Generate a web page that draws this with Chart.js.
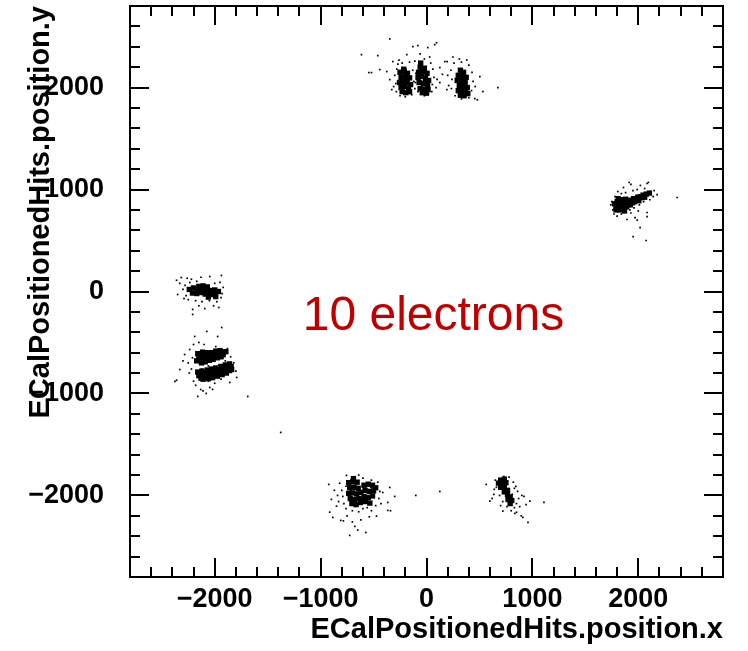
<!DOCTYPE html>
<html>
<head>
<meta charset="utf-8">
<script src="https://cdn.jsdelivr.net/npm/chart.js@4.4.1/dist/chart.umd.min.js"></script>
<style>
html,body{margin:0;padding:0;background:#fff;}
#wrap{width:748px;height:651px;}
</style>
</head>
<body>
<div id="wrap"><canvas id="c" width="748" height="651"></canvas></div>
<script>
// ---- axis setup ----
const xRange = [-2800, 2800];
const yRange = [-2800, 2800];
const majorTicks = [-2000, -1000, 0, 1000, 2000];
const minorStep = 200;
const xTitle = 'ECalPositionedHits.position.x';
const yTitle = 'ECalPositionedHits.position.y';
const annotation = '10 electrons';
const annotationPos = [-1169, -382];

// ---- hits (x, y) ----
const topCore = [
  [-250,2150],[-210,2160],[-180,2140],[-240,2100],[-200,2110],[-160,2095],[-255,2050],[-220,2060],[-185,2045],[-150,2030],
  [-240,2000],[-205,2010],[-170,1990],[-230,1960],[-195,1950],[-160,1960],[-215,2180],[-185,2080],
  [-60,2200],[-20,2190],[-75,2150],[-35,2160],[5,2140],[-80,2100],[-45,2110],[-10,2090],[20,2070],[-70,2050],
  [-30,2040],[10,2030],[-60,1990],[-25,1985],[15,1980],[-40,1950],[0,1945],[-55,2240],
  [320,2170],[350,2150],[300,2120],[340,2110],[375,2100],[290,2070],[330,2060],[365,2050],[310,2020],[350,2010],
  [385,2000],[300,1970],[335,1960],[370,1950],[320,1925],[355,1920],[390,1940]
];
const topHits = [
  [-347,2477],[-614,2323],[-460,2313],[78,2421],[95,2440],[12,2392],[-129,2402],[-82,2412],[674,2000],[-545,2147],
  [-520,2147],[-441,2176],[-318,2255],[-186,2323],[173,2255],[195,2255],[126,2196],[504,2108],[532,1961],[456,1892],
  [480,1880],[126,2049],[192,1980],[-347,2078],[-328,1980],[-375,2157],
  [-300,2120],[-290,2040],[-285,1960],[-270,2230],[-230,2240],[-160,2250],[-130,2170],[-120,2060],[-110,1990],[-140,1930],
  [-250,1920],[-200,1910],[-310,2010],[-280,2180],[-260,2270],
  [-110,2260],[-20,2280],[40,2240],[60,2180],[70,2100],[55,2030],[50,1960],[-100,2140],[-105,2050],[-80,1960],[-20,1920],
  [30,2300],[-60,2330],
  [230,2170],[240,2080],[235,1990],[260,2240],[330,2250],[400,2220],[430,2150],[440,2060],[425,1970],[400,1900],
  [330,1890],[270,1920],[310,2280],[380,2270],[460,2010],[200,2120],[210,2020],[150,2130],[90,2000],[100,2080],[250,2300]
];
const rightCore = [
  [1790,830],[1800,880],[1825,800],[1835,850],[1850,900],[1865,830],[1880,870],[1900,850],[1915,895],[1935,880],
  [1955,910],[1975,900],[1995,925],[2020,930],[2045,945],[2075,955],[2105,965],[1810,910],[1870,790],
  [1775,860],[1790,800],[1820,840],[1845,810],[1860,880],[1890,830],[1905,870],[1925,850],[1945,870],[1965,880],
  [1985,900],[2005,890],[2035,920],[2060,925],[1830,890],[1880,905]
];
const rightHits = [
  [1913,1069],[1930,1050],[2083,1059],[2095,1070],[1807,980],[1750,882],[2367,922],[2178,951],[2150,990],[2017,627],
  [1951,539],[2074,500],[2083,775],[2083,735],[1970,725],[1894,706],[1760,800],[1770,760],[1800,740],[1840,760],
  [1880,780],[1920,800],[1960,820],[2010,850],[2050,880],[2110,900],[2140,930],[1990,1000],[1950,990],[1880,970],
  [1840,960],[1780,930],[2060,1010],[2020,1040],[1860,1020],[1740,850],[1930,770],[2000,790],[1990,700]
];
const leftUpperCore = [
  [-2240,20],[-2200,35],[-2160,15],[-2120,30],[-2080,20],[-2040,10],[-2000,15],[-1965,0],[-2210,-15],[-2170,-20],
  [-2130,-10],[-2090,-25],[-2050,-20],[-2010,-30],[-2110,55],[-2070,45],[-2150,50],[-1990,-50],[-2060,-55]
];
const leftUpperHits = [
  [-2315,137],[-2047,147],[-1937,157],[-2350,-29],[-2208,-176],[-2208,-225],[-2094,-167],[-1962,-157],[-2235,88],[-2220,120],
  [-2280,60],[-2300,20],[-2330,80],[-2270,-40],[-2250,-80],[-2180,-90],[-2120,-100],[-2050,-90],[-1980,-100],[-1940,-60],
  [-1920,40],[-1950,90],[-2000,80],[-2170,100],[-2260,130],[-2130,140],[-1930,-20],[-2360,110],[-2290,-70],[-2150,-140],
  [-2010,-140]
];
const leftLowerCore = [
  [-2140,-660],[-2105,-645],[-2070,-640],[-2035,-625],[-2000,-615],[-1965,-605],[-1930,-595],[-1895,-590],[-2125,-700],[-2090,-690],
  [-2050,-675],[-2015,-665],[-1975,-650],[-1940,-640],[-2160,-610],[-2115,-595],[-2080,-600],
  [-2150,-640],[-2110,-625],[-2070,-615],[-2030,-600],[-1990,-585],[-1950,-580],[-2100,-670],[-2060,-660],[-2020,-645],
  [-1980,-630],[-1920,-620],[-2170,-680],
  [-2150,-825],[-2115,-810],[-2080,-800],[-2045,-790],[-2005,-780],[-1965,-765],[-1925,-755],[-1885,-745],[-1845,-735],
  [-2130,-850],[-2085,-840],[-2040,-825],[-2000,-815],[-1955,-800],[-1910,-790],[-1860,-775],
  [-2160,-790],[-2120,-780],[-2070,-770],[-2030,-760],[-1990,-750],[-1940,-735],[-1900,-720],[-1860,-710],[-2110,-860],
  [-2060,-855],[-2020,-845],[-1975,-830],[-1930,-815],[-1890,-800],[-1840,-765]
];
const leftLowerHits = [
  [-2376,-882],[-2360,-870],[-2189,-441],[-2075,-392],[-1934,-353],[-1972,-441],[-2284,-618],[-2236,-569],[-2330,-765],[-1792,-843],
  [-1858,-892],[-2132,-961],[-2110,-975],[-2160,-1029],[-2047,-941],[-1688,-1029],[-1377,-1382],[-2200,-520],[-2250,-700],[-2220,-760],
  [-2200,-880],[-2180,-920],[-2060,-880],[-2000,-900],[-1940,-860],[-1820,-700],[-1850,-640],[-1880,-560],[-1990,-540],[-2100,-520],
  [-2150,-500],[-2240,-800],[-2300,-680],[-1800,-780],[-2020,-960],[-2080,-1000],[-2210,-650],[-1900,-680],[-1960,-720],[-2060,-730],
  [-2120,-760]
];
const bottomLeftCore = [
  [-735,-1875],[-695,-1865],[-655,-1870],[-725,-1925],[-685,-1920],[-645,-1930],[-735,-1980],[-700,-1975],[-660,-1985],[-620,-1970],
  [-720,-2030],[-680,-2040],[-640,-2030],[-705,-2080],[-665,-2090],[-625,-2070],[-690,-1835],
  [-590,-1900],[-550,-1890],[-510,-1900],[-480,-1925],[-580,-1950],[-540,-1960],[-500,-1955],[-590,-2010],[-550,-2020],
  [-510,-2005],[-575,-2060],[-535,-2075],[-600,-2045]
];
const bottomLeftHits = [
  [-756,-1804],[-923,-1892],[-898,-2039],[-914,-2164],[-885,-2216],[-725,-2392],[-649,-2340],[-573,-2363],[-677,-2304],[-472,-2203],
  [-366,-2069],[-300,-2010],[-347,-1922],[-413,-1971],[-366,-2147],[-340,-2150],[-810,-2245],[-785,-2250],[-850,-2105],[-101,-2000],
  [126,-1961],[-800,-1950],[-790,-2010],[-780,-2080],[-820,-1880],[-760,-2130],[-700,-2150],[-640,-2160],[-600,-2130],[-560,-2120],
  [-520,-2150],[-480,-2100],[-450,-2030],[-440,-1960],[-460,-1870],[-520,-1850],[-600,-1830],[-640,-1800],[-840,-2000],[-870,-1950],
  [-750,-2200],[-620,-2240],[-540,-2210],[-430,-2080],[-700,-2260],[-760,-1910],[-830,-2060]
];
const bottomRightCore = [
  [700,-1850],[735,-1840],[680,-1880],[715,-1885],[750,-1875],[700,-1920],[735,-1920],[765,-1950],[735,-1965],[765,-1990],
  [790,-2015],[770,-2040],[805,-2050],[790,-2080]
];
const bottomRightHits = [
  [564,-1892],[598,-2056],[721,-2154],[834,-2176],[850,-2165],[910,-2216],[895,-2200],[958,-2265],[976,-2056],[1109,-2069],
  [900,-2000],[920,-2010],[844,-1912],[830,-1930],[730,-1814],[780,-1820],[636,-1990],[620,-2030],[660,-1920],[650,-1850],
  [820,-1870],[860,-1960],[850,-2080],[880,-2110],[830,-2120],[760,-2110],[720,-2060],[690,-2000],[700,-2100],[800,-2150],
  [640,-1940],[870,-2030],[940,-2090],[810,-1990]
];

const toXY = arr => arr.map(p => ({x: p[0], y: p[1]}));
const coreData = toXY([].concat(topCore, rightCore, leftUpperCore, leftLowerCore, bottomLeftCore, bottomRightCore));
const hitData = toXY([].concat(topHits, rightHits, leftUpperHits, leftLowerHits, bottomLeftHits, bottomRightHits));

const fmt = v => (v < 0 ? '\u2212' + Math.abs(v) : String(v));
const setMajorTicks = s => { s.ticks = majorTicks.map(v => ({value: v})); };
const noPad = (prop, size) => s => {
  s[prop] = size;
  s.paddingTop = 0; s.paddingBottom = 0; s.paddingLeft = 0; s.paddingRight = 0;
};

const frameTicks = {
  id: 'frameTicks',
  afterDraw(chart) {
    const {ctx, chartArea: a, scales: {x, y}} = chart;
    ctx.save();
    ctx.strokeStyle = '#000';
    ctx.lineWidth = 2;
    ctx.lineCap = 'butt';
    ctx.beginPath();
    for (let v = Math.ceil(xRange[0] / minorStep) * minorStep; v <= xRange[1]; v += minorStep) {
      const len = majorTicks.includes(v) ? 19 : 10;
      const px = Math.round(x.getPixelForValue(v));
      ctx.moveTo(px, a.bottom); ctx.lineTo(px, a.bottom - len);
      ctx.moveTo(px, a.top); ctx.lineTo(px, a.top + len);
    }
    for (let v = Math.ceil(yRange[0] / minorStep) * minorStep; v <= yRange[1]; v += minorStep) {
      const len = majorTicks.includes(v) ? 19 : 10;
      const py = Math.round(y.getPixelForValue(v));
      ctx.moveTo(a.left, py); ctx.lineTo(a.left + len, py);
      ctx.moveTo(a.right, py); ctx.lineTo(a.right - len, py);
    }
    ctx.stroke();
    ctx.strokeRect(a.left, a.top, a.right - a.left, a.bottom - a.top);
    // annotation
    ctx.fillStyle = 'rgb(192,0,0)';
    ctx.font = '48px "Liberation Sans", Arial, sans-serif';
    ctx.textAlign = 'left';
    ctx.textBaseline = 'alphabetic';
    ctx.fillText(annotation, x.getPixelForValue(annotationPos[0]), y.getPixelForValue(annotationPos[1]));
    ctx.restore();
  }
};

const labelFont = {family: '"Liberation Sans", Arial, sans-serif', size: 27, weight: 'bold'};
const titleFont = {family: '"Liberation Sans", Arial, sans-serif', size: 29, weight: 'bold'};

new Chart(document.getElementById('c'), {
  type: 'scatter',
  data: {
    datasets: [
      {label: 'core', data: coreData, pointStyle: 'rect', pointRadius: 3.8, pointHoverRadius: 3.8,
       backgroundColor: '#000', borderColor: '#000', borderWidth: 0},
      {label: 'hits', data: hitData, pointStyle: 'rect', pointRadius: 1.2, pointHoverRadius: 1.2,
       backgroundColor: '#000', borderColor: '#000', borderWidth: 0}
    ]
  },
  options: {
    responsive: false,
    animation: false,
    devicePixelRatio: 1,
    events: [],
    layout: {padding: {left: 0, right: 25, top: 6, bottom: 0}},
    plugins: {legend: {display: false}, tooltip: {enabled: false}},
    scales: {
      x: {
        type: 'linear', position: 'bottom', min: xRange[0], max: xRange[1],
        grid: {display: false, drawTicks: false},
        border: {display: false},
        afterBuildTicks: setMajorTicks,
        ticks: {autoSkip: false, maxRotation: 0, padding: 6,
                color: '#000', font: labelFont, callback: v => fmt(v)},
        title: {display: true, text: xTitle, align: 'end', color: '#000', font: titleFont,
                padding: {top: 0, bottom: 4}},
        afterFit: noPad('height', 74)
      },
      y: {
        type: 'linear', position: 'left', min: yRange[0], max: yRange[1],
        grid: {display: false, drawTicks: false},
        border: {display: false},
        afterBuildTicks: setMajorTicks,
        ticks: {autoSkip: false, padding: 26,
                color: '#000', font: labelFont, callback: v => fmt(v)},
        title: {display: true, text: yTitle, align: 'end', color: '#000', font: titleFont,
                padding: {top: 24, bottom: 0}},
        afterFit: noPad('width', 130)
      }
    }
  },
  plugins: [frameTicks]
});
</script>
</body>
</html>
